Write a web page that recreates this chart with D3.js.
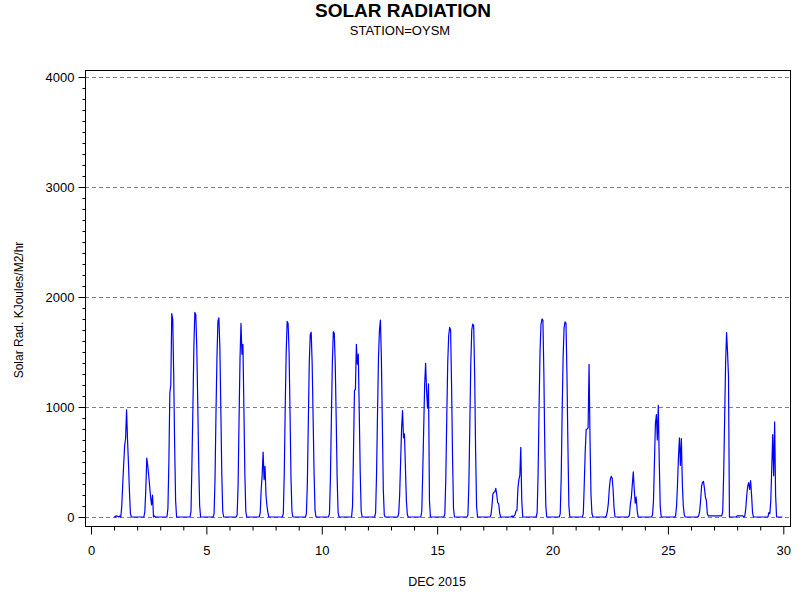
<!DOCTYPE html>
<html><head><meta charset="utf-8">
<script src="https://cdn.jsdelivr.net/npm/d3@7"></script>
<style>
body{margin:0;background:#fff}
svg{display:block}
text{font-family:"Liberation Sans",Arial,Helvetica,sans-serif;fill:#000}
</style>
</head><body>
<svg id="chart" width="800" height="600"></svg>
<script>
// ---- data (hourly solar radiation, KJoules/M2/hr, Dec 2015) ----
const title = "SOLAR RADIATION";
const subtitle = "STATION=OYSM";
const xLabel = "DEC 2015";
const yLabel = "Solar Rad. KJoules/M2/hr";
const xTicks = [0, 5, 10, 15, 20, 25, 30];
const yTicks = [0, 1000, 2000, 3000, 4000];
const firstDay = 1;
// one row per day (Dec 1 .. Dec 29), 24 hourly values (hour 0 .. 23)
const radiationByDay = [
  [5,0,10,8,5,0,10,0, 100,300,480,650,716,975,700,480,230,30, 0,0,0,0,0,0],
  [0,0,0,0,0,0,0,0, 50,250,536,470,380,280,180,110,200,0, 10,0,0,0,0,0],
  [0,0,0,0,0,0,0,0, 80,500,1130,1200,1850,1800,1300,650,150,0, 0,0,0,0,0,0],
  [0,0,0,0,0,0,0,0, 50,500,1000,1550,1860,1840,1550,1050,500,100, 0,0,0,0,0,0],
  [0,0,0,0,0,0,0,0, 30,350,950,1450,1780,1810,1550,1000,400,50, 0,0,0,0,0,0],
  [0,0,0,0,0,0,0,0, 20,300,900,1450,1760,1480,1570,1000,400,50, 0,0,0,0,0,0],
  [0,0,0,0,0,0,0,0, 40,250,380,590,340,460,200,100,40,0, 0,0,0,0,0,0],
  [0,0,0,0,0,0,0,0, 30,400,1000,1500,1778,1760,1500,950,350,50, 0,0,0,0,0,0],
  [0,0,0,0,0,0,0,0, 30,300,850,1400,1660,1680,1400,900,400,60, 0,0,0,0,0,0],
  [0,0,0,0,0,0,0,0, 30,350,900,1400,1685,1670,1400,900,350,40, 0,0,0,0,0,0],
  [0,0,0,0,0,0,0,0, 100,600,1150,1160,1570,1390,1480,950,400,50, 0,0,0,0,0,0],
  [0,0,0,0,0,0,0,0, 40,400,950,1450,1700,1790,1450,850,250,20, 0,0,0,0,0,0],
  [0,0,0,0,0,0,0,0, 30,200,500,800,967,720,755,450,150,20, 0,0,0,0,0,0],
  [0,0,0,0,0,0,0,0, 50,400,800,1200,1397,1150,990,1210,150,0, 0,0,0,0,0,0],
  [0,0,0,0,0,0,0,0, 30,350,900,1400,1650,1723,1700,1200,550,80, 0,0,0,0,0,0],
  [0,0,0,0,0,0,0,0, 20,300,850,1400,1700,1753,1740,1300,600,100, 0,0,0,0,0,0],
  [0,0,0,0,0,0,0,0, 20,100,210,225,230,260,200,130,120,40, 0,0,0,0,0,0],
  [0,0,0,0,0,0,10,0, 10,20,55,60,260,340,380,633,150,0, 0,0,0,0,0,0],
  [0,0,0,0,0,0,0,0, 40,400,1000,1500,1750,1800,1790,1300,600,100, 0,0,0,0,0,0],
  [0,0,0,0,0,0,0,0, 30,350,950,1450,1720,1775,1760,1300,650,100, 0,0,0,0,0,0],
  [0,0,0,0,0,0,0,0, 30,300,600,795,800,810,1388,700,200,30, 0,0,0,0,0,0],
  [0,0,0,0,0,0,0,0, 10,50,120,250,340,370,355,250,80,0, 0,0,0,0,0,0],
  [0,0,0,0,0,0,0,0, 20,120,180,300,410,250,125,180,60,0, 0,0,0,0,0,0],
  [0,0,0,0,0,0,0,0, 20,150,500,850,930,700,1014,500,100,0, 0,0,0,0,0,0],
  [0,0,0,0,0,0,0,0, 10,100,300,550,720,470,712,300,100,20, 0,0,0,0,0,0],
  [0,0,0,0,0,0,0,0, 10,50,150,280,315,323,260,180,150,30, 10,10,10,10,10,10],
  [10,10,10,10,10,10,10,10, 10,50,400,900,1400,1677,1500,1280,0,0, 0,0,0,0,0,0],
  [10,10,10,10,10,10,10,0, 10,80,200,280,313,250,330,200,40,0, 0,0,0,0,0,0],
  [0,0,0,0,0,0,0,0, 0,40,30,150,450,749,374,864,200,0, 0,0,0,0,0,0]
];

// ---- build series ----
const series = [];
radiationByDay.forEach((hours, i) => {
  hours.forEach((v, h) => series.push({ t: firstDay + i + h / 24, v: v }));
});

// ---- layout ----
const svg = d3.select("#chart");
const frame = { left: 85, right: 790, top: 70, bottom: 526 };
const x = d3.scaleLinear().domain([0, 30]).range([91, 783.3]);
const y = d3.scaleLinear().domain([0, 4000]).range([517, 77]);

// titles
svg.append("text").attr("x", 403).attr("y", 17).attr("text-anchor", "middle")
  .style("font-size", "19px").style("font-weight", "bold").text(title);
svg.append("text").attr("x", 400).attr("y", 35).attr("text-anchor", "middle")
  .style("font-size", "13px").text(subtitle);

// gridlines
svg.append("g").selectAll("line").data(yTicks).join("line")
  .attr("x1", frame.left).attr("x2", frame.right)
  .attr("y1", d => Math.round(y(d)) + 0.5).attr("y2", d => Math.round(y(d)) + 0.5)
  .attr("stroke", "#808080").attr("stroke-width", 1).attr("stroke-dasharray", "4,3");

// data line
const line = d3.line().x(d => x(d.t)).y(d => y(d.v));
svg.append("path").datum(series).attr("d", line)
  .attr("fill", "none").attr("stroke", "#0000ff").attr("stroke-width", 1.2)
  .attr("stroke-linejoin", "round");

// frame
svg.append("rect").attr("x", frame.left + 0.5).attr("y", frame.top + 0.5)
  .attr("width", frame.right - frame.left).attr("height", frame.bottom - frame.top)
  .attr("fill", "none").attr("stroke", "#000").attr("stroke-width", 1);

// y axis
const yAxisG = svg.append("g").attr("transform", `translate(${frame.left + 0.5},0)`);
yAxisG.call(d3.axisLeft(y).tickValues(yTicks).tickSize(7).tickPadding(4).tickFormat(d3.format("d")));
yAxisG.append("g").call(d3.axisLeft(y).tickValues(d3.range(0, 4001, 100).filter(v => v % 1000 !== 0)).tickSize(3).tickFormat(""));
yAxisG.selectAll(".domain").remove();
yAxisG.selectAll("text").style("font-size", "13px").style("font-family", '"Liberation Sans",Arial,sans-serif');

// x axis
const xAxisG = svg.append("g").attr("transform", `translate(0,${frame.bottom + 0.5})`);
xAxisG.call(d3.axisBottom(x).tickValues(xTicks).tickSize(8).tickPadding(11).tickFormat(d3.format("d")));
xAxisG.append("g").call(d3.axisBottom(x).tickValues(d3.range(0, 31).filter(v => v % 5 !== 0)).tickSize(4).tickFormat(""));
xAxisG.selectAll(".domain").remove();
xAxisG.selectAll("text").style("font-size", "13px").style("font-family", '"Liberation Sans",Arial,sans-serif');

// axis labels
svg.append("text").attr("x", 437).attr("y", 586).attr("text-anchor", "middle")
  .style("font-size", "12.5px").text(xLabel);
svg.append("text").attr("transform", "translate(23,310) rotate(-90)").attr("text-anchor", "middle")
  .style("font-size", "12px").text(yLabel);
</script>
</body></html>
